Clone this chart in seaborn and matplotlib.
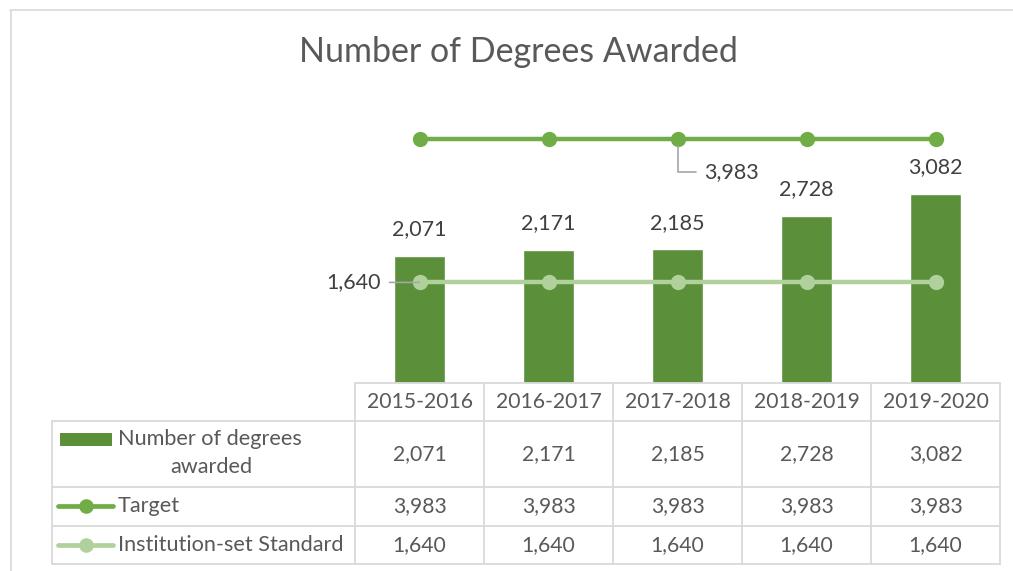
import matplotlib
matplotlib.use("Agg")
import matplotlib.pyplot as plt
from matplotlib.lines import Line2D
from matplotlib.patches import Rectangle
import seaborn as sns
import pandas as pd

# ---------------- data ----------------
categories = ["2015-2016", "2016-2017", "2017-2018", "2018-2019", "2019-2020"]
degrees = [2071, 2171, 2185, 2728, 3082]
target = [3983, 3983, 3983, 3983, 3983]
standard = [1640, 1640, 1640, 1640, 1640]
series_names = ["Number of degrees\nawarded", "Target", "Institution-set Standard"]
title = "Number of Degrees Awarded"

# ---------------- style ----------------
sns.set_theme(style="white")
plt.rcParams["font.family"] = ["Lato", "DejaVu Sans"]

BAR = "#5B8F3A"
TGT = "#70AD47"
STD = "#B0D19C"
TXT = "#595959"
GRID = "#D9D9D9"
LEAD = "#A6A6A6"

W, H = 1013, 571
fig = plt.figure(figsize=(W / 100, H / 100), dpi=100)


def fx(x):
    return x / W


def fy(y):
    return 1 - y / H


# chart frame (top and left borders visible)
fig.add_artist(Line2D([fx(10), fx(1013)], [fy(9.5), fy(9.5)], color=GRID, lw=1.2))
fig.add_artist(Line2D([fx(10.5), fx(10.5)], [fy(9.5), fy(571)], color=GRID, lw=1.2))

# plot area
left_px, right_px, base_px, top_px = 355, 1000, 383, 107
ax = fig.add_axes([fx(left_px), fy(base_px), (right_px - left_px) / W, (base_px - top_px) / H])
df = pd.DataFrame({"cat": categories, "deg": degrees})
sns.barplot(data=df, x="cat", y="deg", color=BAR, saturation=1, width=0.4, ax=ax, zorder=2)
idx = list(range(len(categories)))
sns.lineplot(x=idx, y=standard, color=STD, lw=3.2, marker="o", markersize=11,
             markeredgewidth=0, ax=ax, zorder=3)
sns.lineplot(x=idx, y=target, color=TGT, lw=3.2, marker="o", markersize=11,
             markeredgewidth=0, ax=ax, zorder=3)
ax.set_xlim(-0.5, len(categories) - 0.5)
ax.set_ylim(0, 4500)
ax.axis("off")

lab_fs = 15.5
for i, v in enumerate(degrees):
    ax.annotate(f"{v:,}", (i, v), xytext=(0, 19), textcoords="offset points",
                ha="center", va="center", fontsize=lab_fs, color="#404040")

# target label on the middle point with leader line
ax.annotate(f"{target[2]:,}", (2, target[2]), xytext=(19, -24), textcoords="offset points",
            ha="left", va="center", fontsize=lab_fs, color="#404040",
            arrowprops=dict(arrowstyle="-", color=LEAD, lw=1.2, shrinkA=3, shrinkB=5,
                            connectionstyle="angle,angleA=0,angleB=90,rad=0"))
# standard label on the first point with leader line
ax.annotate(f"{standard[0]:,}", (0, standard[0]), xytext=(-28, 0), textcoords="offset points",
            ha="right", va="center", fontsize=lab_fs, color="#404040",
            arrowprops=dict(arrowstyle="-", color=LEAD, lw=1.2, shrinkA=4, shrinkB=0))

# title
fig.text(fx(518), fy(52), title, ha="center", va="center", fontsize=24.5, color=TXT)

# ---------------- data table ----------------
col_x = [355, 484, 613, 742, 871, 1000]
row_y = [383, 421, 487, 526, 564]
tbl_left = 52
lw = 1.3
# horizontal lines
fig.add_artist(Line2D([fx(col_x[0]), fx(col_x[-1])], [fy(row_y[0])] * 2, color=GRID, lw=lw))
for y in row_y[1:]:
    fig.add_artist(Line2D([fx(tbl_left), fx(col_x[-1])], [fy(y)] * 2, color=GRID, lw=lw))
# vertical lines
for x in col_x:
    fig.add_artist(Line2D([fx(x)] * 2, [fy(row_y[0]), fy(row_y[-1])], color=GRID, lw=lw))
fig.add_artist(Line2D([fx(tbl_left)] * 2, [fy(row_y[1]), fy(row_y[-1])], color=GRID, lw=lw))

tfs = 15.2
hfs = 15.6
centers = [(col_x[i] + col_x[i + 1]) / 2 for i in range(len(categories))]
for cx, c in zip(centers, categories):
    fig.text(fx(cx), fy((row_y[0] + row_y[1]) / 2), c, ha="center", va="center",
             fontsize=tfs, color=TXT)
for r, vals in enumerate([degrees, target, standard]):
    yc = (row_y[r + 1] + row_y[r + 2]) / 2
    for cx, v in zip(centers, vals):
        fig.text(fx(cx), fy(yc), f"{v:,}", ha="center", va="center", fontsize=tfs, color=TXT)

# row headers with legend keys
fig.add_artist(Rectangle((fx(60), fy(446)), (112 - 60) / W, (446 - 433) / H,
                         color=BAR, lw=0))
fig.text(fx(118), fy(439), "Number of degrees", ha="left", va="center", fontsize=hfs, color=TXT)
fig.text(fx(211), fy(467), "awarded", ha="center", va="center", fontsize=hfs, color=TXT)
for (yc, col, name) in [(506, TGT, series_names[1]), (545, STD, series_names[2])]:
    fig.add_artist(Line2D([fx(58), fx(113)], [fy(yc)] * 2, color=col, lw=3.4))
    fig.add_artist(Line2D([fx(85.5)], [fy(yc)], color=col, marker="o", markersize=10.5,
                          markeredgewidth=0))
    fig.text(fx(118), fy(yc), name, ha="left", va="center", fontsize=hfs, color=TXT)

fig.savefig("out.png", dpi=100)
